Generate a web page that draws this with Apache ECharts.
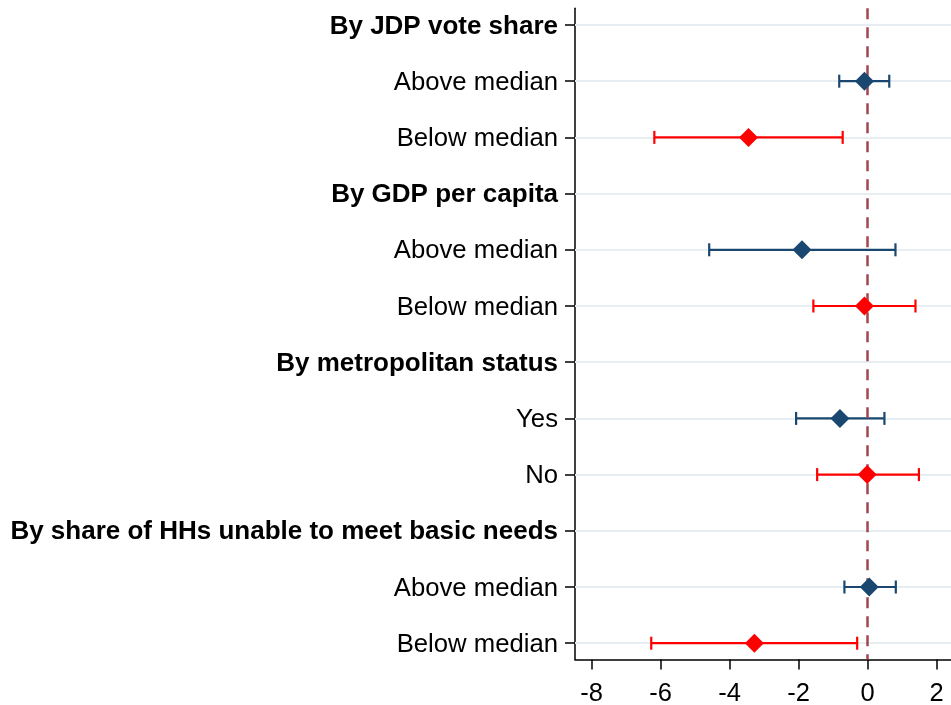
<!DOCTYPE html>
<html>
<head>
<meta charset="utf-8">
<script src="https://cdn.jsdelivr.net/npm/echarts@6/dist/echarts.min.js"></script>
<style>
html,body{margin:0;padding:0;background:#fff;}
#chart{width:951px;height:705px;}
</style>
</head>
<body>
<div id="chart"></div>
<script>
const categories = ['By JDP vote share','Above median','Below median','By GDP per capita','Above median','Below median','By metropolitan status','Yes','No','By share of HHs unable to meet basic needs','Above median','Below median'];
const headerRows = [0,3,6,9];
const blueRows = [1,4,7,10];
const blueEst  = [-0.09,-1.90,-0.80,0.05];
const blueLow  = [-0.82,-4.59,-2.07,-0.67];
const blueHigh = [0.63,0.81,0.49,0.82];
const redRows = [2,5,8,11];
const redEst  = [-3.45,-0.09,-0.01,-3.28];
const redLow  = [-6.18,-1.57,-1.46,-6.27];
const redHigh = [-0.72,1.39,1.49,-0.30];
const xTicks = [-8,-6,-4,-2,0,2];
const rowIdx = categories.map((c,i)=>i);

const BLUE = '#1a476f', RED = '#ff0000';
const FONT = '"Liberation Sans", Arial, sans-serif';

function ciRender(color){
  return function(params, api){
    const y = api.value(0), lo = api.value(1), hi = api.value(2);
    const p1 = api.coord([lo, y]), p2 = api.coord([hi, y]);
    const h = 6.5;
    const st = {stroke: color, lineWidth: 2.2, fill: null};
    return {type:'group', children:[
      {type:'line', shape:{x1:p1[0],y1:p1[1],x2:p2[0],y2:p2[1]}, style:st},
      {type:'line', shape:{x1:p1[0],y1:p1[1]-h,x2:p1[0],y2:p1[1]+h}, style:st},
      {type:'line', shape:{x1:p2[0],y1:p2[1]-h,x2:p2[0],y2:p2[1]+h}, style:st}
    ]};
  };
}

const chart = echarts.init(document.getElementById('chart'), null, {renderer:'canvas'});
chart.setOption({
  backgroundColor:'#fff',
  animation:false,
  grid:{left:575, right:0, top:8.3, bottom:45.5, containLabel:false, outerBoundsMode:'none'},
  xAxis:{
    type:'value', min:-8.48, max:2.42,
    axisLine:{show:true, onZero:false, lineStyle:{color:'#000', width:1.5}},
    axisTick:{show:true, length:10, customValues:xTicks, lineStyle:{color:'#000', width:1.5}},
    axisLabel:{customValues:xTicks, margin:21, fontSize:25.5, color:'#000', fontFamily:FONT,
      formatter:v=>String(v)},
    splitLine:{show:false}
  },
  yAxis:{
    type:'value', inverse:true, min:-0.297, max:11.29,
    axisLine:{show:true, onZero:false, lineStyle:{color:'#000', width:1.5}},
    axisTick:{show:true, length:10, customValues:rowIdx, lineStyle:{color:'#000', width:1.5}},
    axisLabel:{customValues:rowIdx, margin:17, color:'#000', fontFamily:FONT,
      formatter:v=>{
        const i = Math.round(v);
        return headerRows.includes(i) ? '{b|'+categories[i]+'}' : '{n|'+categories[i]+'}';
      },
      rich:{
        b:{fontSize:26, fontWeight:'bold', fontFamily:FONT, color:'#000', padding:[3,0,0,0]},
        n:{fontSize:25.7, fontFamily:FONT, color:'#000', padding:[3,0,0,0]}
      }
    },
    splitLine:{show:false}
  },
  series:[
    {
      type:'line', data:[], silent:true, z:1,
      markLine:{silent:true, z:1, symbol:'none', animation:false, label:{show:false},
        lineStyle:{color:'#e6eef2', width:1.8, type:'solid'},
        emphasis:{disabled:true},
        data: rowIdx.map(i=>({yAxis:i}))}
    },
    {
      type:'custom', z:3, renderItem:ciRender(BLUE),
      data: blueRows.map((r,i)=>[r, blueLow[i], blueHigh[i]]),
      encode:{y:0, x:[1,2]}
    },
    {
      type:'custom', z:3, renderItem:ciRender(RED),
      data: redRows.map((r,i)=>[r, redLow[i], redHigh[i]]),
      encode:{y:0, x:[1,2]}
    },
    {
      type:'line', data:[], silent:true, z:4,
      markLine:{silent:true, z:4, symbol:'none', animation:false, label:{show:false},
        lineStyle:{color:'#a3454f', width:2.5, type:[11,8]},
        emphasis:{disabled:true},
        data:[{xAxis:0}]}
    },
    {
      type:'scatter', z:5, symbol:'diamond', symbolSize:19,
      itemStyle:{color:BLUE, opacity:1},
      data: blueRows.map((r,i)=>[blueEst[i], r])
    },
    {
      type:'scatter', z:5, symbol:'diamond', symbolSize:19,
      itemStyle:{color:RED, opacity:1},
      data: redRows.map((r,i)=>[redEst[i], r])
    }
  ]
});
</script>
</body>
</html>
